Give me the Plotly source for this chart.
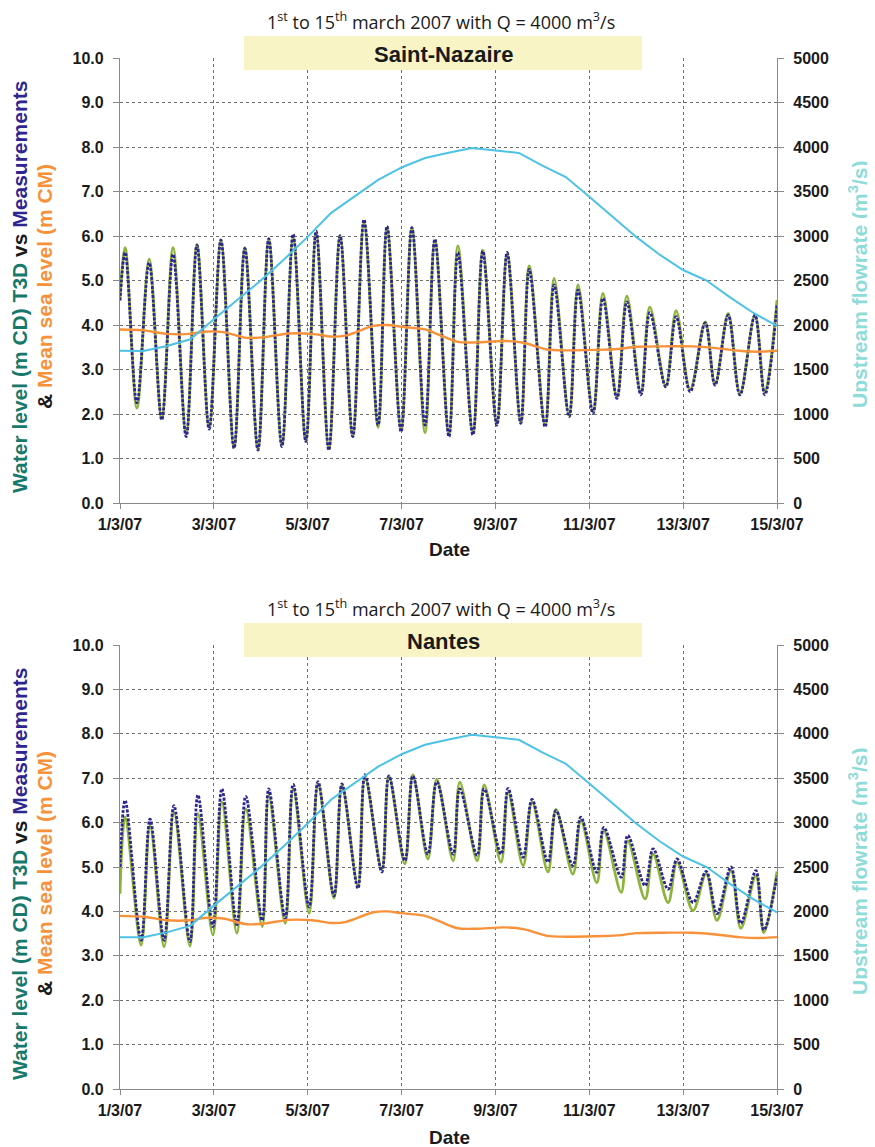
import plotly.graph_objects as go

# ---------------- data ----------------
# x values are days after 1 March 2007 00:00
date_ticks = [0, 2, 4, 6, 8, 10, 12, 14]
date_labels = ["1/3/07", "3/3/07", "5/3/07", "7/3/07", "9/3/07", "11/3/07", "13/3/07", "15/3/07"]

# Saint-Nazaire: high / low water extremes
sn_t = [0.00, 0.11, 0.36, 0.62, 0.89, 1.13, 1.41, 1.64, 1.90, 2.15, 2.43, 2.66, 2.94, 3.17,
        3.45, 3.69, 3.96, 4.18, 4.45, 4.69, 4.96, 5.20, 5.50, 5.69, 5.99, 6.22, 6.50, 6.71,
        7.01, 7.20, 7.52, 7.73, 8.03, 8.25, 8.54, 8.72, 9.06, 9.25, 9.57, 9.76, 10.08, 10.29,
        10.59, 10.80, 11.10, 11.29, 11.63, 11.85, 12.15, 12.47, 12.68, 12.96, 13.21, 13.53,
        13.74, 14.00]
sn_meas = [4.55, 5.63, 2.25, 5.40, 1.87, 5.59, 1.49, 5.79, 1.66, 5.91, 1.23, 5.72, 1.19, 5.94,
           1.27, 6.04, 1.38, 6.11, 1.19, 6.01, 1.49, 6.37, 1.75, 6.22, 1.60, 6.19, 1.75, 5.93,
           1.49, 5.63, 1.53, 5.66, 1.75, 5.63, 1.79, 5.25, 1.71, 4.90, 1.94, 4.79, 2.01, 4.60,
           2.35, 4.52, 2.43, 4.28, 2.61, 4.19, 2.50, 4.05, 2.65, 4.22, 2.43, 4.22, 2.43, 4.45]
sn_model = [4.60, 5.74, 2.13, 5.48, 1.90, 5.74, 1.55, 5.81, 1.70, 5.89, 1.25, 5.74, 1.22, 5.93,
            1.30, 5.96, 1.40, 6.07, 1.22, 6.00, 1.50, 6.30, 1.70, 6.19, 1.65, 6.19, 1.58, 5.89,
            1.55, 5.78, 1.58, 5.68, 1.78, 5.60, 1.80, 5.33, 1.75, 5.05, 1.97, 4.90, 2.05, 4.71,
            2.38, 4.65, 2.47, 4.40, 2.63, 4.32, 2.55, 4.07, 2.66, 4.26, 2.45, 4.22, 2.48, 4.56]

# Nantes: high / low water extremes
na_t = [0.00, 0.11, 0.45, 0.64, 0.94, 1.15, 1.49, 1.66, 1.98, 2.17, 2.49, 2.68, 3.03, 3.17,
        3.52, 3.69, 4.03, 4.22, 4.56, 4.73, 5.07, 5.22, 5.58, 5.73, 6.07, 6.24, 6.56, 6.75,
        7.10, 7.24, 7.61, 7.76, 8.12, 8.27, 8.59, 8.78, 9.12, 9.29, 9.65, 9.82, 10.16, 10.31,
        10.68, 10.82, 11.19, 11.36, 11.68, 11.87, 12.21, 12.49, 12.72, 13.02, 13.23, 13.55,
        13.72, 14.00]
na_meas = [5.00, 6.50, 3.35, 6.08, 3.35, 6.38, 3.32, 6.62, 3.66, 6.76, 3.70, 6.59, 3.80, 6.76,
           3.85, 6.86, 4.10, 6.92, 4.35, 6.87, 4.52, 7.08, 4.89, 7.05, 5.14, 7.05, 5.29, 6.92,
           5.29, 6.76, 5.26, 6.76, 5.29, 6.77, 5.22, 6.52, 5.11, 6.27, 5.03, 6.12, 4.88, 5.89,
           4.77, 5.71, 4.58, 5.41, 4.50, 5.18, 4.20, 4.90, 3.95, 5.00, 3.73, 4.92, 3.58, 4.80]
na_model = [4.40, 6.12, 3.24, 5.93, 3.20, 6.23, 3.22, 6.20, 3.47, 6.46, 3.51, 6.31, 3.66, 6.61,
            3.73, 6.76, 3.96, 6.87, 4.30, 6.83, 4.58, 7.02, 4.95, 7.05, 5.07, 7.08, 5.18, 6.98,
            5.14, 6.91, 5.14, 6.85, 5.11, 6.68, 5.03, 6.46, 4.89, 6.30, 4.84, 6.05, 4.65, 5.82,
            4.43, 5.59, 4.28, 5.29, 4.20, 5.11, 4.02, 4.85, 3.80, 4.92, 3.62, 4.80, 3.52, 4.90]

# Mean sea level (m CM)
msl_t = [0.0, 0.5, 1.0, 1.5, 1.8, 2.2, 2.7, 3.1, 3.6, 4.1, 4.5, 4.8, 5.4, 5.7, 6.0, 6.5, 6.8,
         7.2, 7.6, 8.2, 8.6, 9.1, 9.5, 10.1, 10.6, 11.0, 11.6, 12.2, 12.7, 13.2, 13.6, 14.0]
msl_v = [3.90, 3.88, 3.80, 3.80, 3.85, 3.84, 3.71, 3.73, 3.81, 3.80, 3.74, 3.76, 3.98, 4.00,
         3.96, 3.90, 3.78, 3.62, 3.61, 3.64, 3.60, 3.45, 3.43, 3.44, 3.46, 3.51, 3.52, 3.52,
         3.48, 3.42, 3.40, 3.42]

# Upstream flowrate (m3/s)
flow_t = [0.0, 0.5, 1.0, 1.5, 2.0, 2.5, 3.0, 3.5, 4.0, 4.5, 5.0, 5.5, 6.0, 6.5, 7.0, 7.5,
          8.0, 8.5, 9.0, 9.5, 10.0, 10.5, 11.0, 11.5, 12.0, 12.5, 13.0, 13.5, 14.0]
flow_v = [1710, 1708, 1764, 1840, 2065, 2285, 2500, 2740, 2990, 3260, 3440, 3630, 3770, 3876,
          3935, 3989, 3960, 3933, 3790, 3663, 3440, 3210, 2990, 2790, 2618, 2500, 2310, 2135, 1990]

# ---------------- styling ----------------
OFF = 8                      # page body margin of the html page
W, H = 875 - OFF, 1147 - OFF
GREEN = "#8cb43a"
BLUE = "#2e2690"
ORANGE = "#f7923a"
CYAN = "#4cc2e4"
TEAL = "#17786c"
LIGHTCYAN = "#8edcd9"
GRID = "#6e6e6e"
TXT = "#1a1a1a"
FONT = "Liberation Sans"


def px(x):
    return (x - OFF) / W


def py(y):
    return 1 - (y - OFF) / H


fig = go.Figure()

panels = [
    dict(t=sn_t, meas=sn_meas, model=sn_model, xa="x", ya="y", ya2="y2"),
    dict(t=na_t, meas=na_meas, model=na_model, xa="x2", ya="y3", ya2="y4"),
]
for p in panels:
    fig.add_trace(go.Scatter(x=p["t"], y=p["model"], mode="lines", xaxis=p["xa"], yaxis=p["ya"],
                             line=dict(color=GREEN, width=2.8, shape="spline", smoothing=1.0),
                             hoverinfo="skip"))
    fig.add_trace(go.Scatter(x=p["t"], y=p["meas"], mode="lines", xaxis=p["xa"], yaxis=p["ya"],
                             line=dict(color=BLUE, width=2.8, shape="spline", smoothing=1.0,
                                       dash="3px,1.5px"),
                             hoverinfo="skip"))
    fig.add_trace(go.Scatter(x=msl_t, y=msl_v, mode="lines", xaxis=p["xa"], yaxis=p["ya"],
                             line=dict(color=ORANGE, width=2.4, shape="spline", smoothing=0.8),
                             hoverinfo="skip"))
    fig.add_trace(go.Scatter(x=flow_t, y=flow_v, mode="lines", xaxis=p["xa"], yaxis=p["ya2"],
                             line=dict(color=CYAN, width=2.0), hoverinfo="skip"))

tickfont = dict(family=FONT, size=16, color=TXT, weight="bold")
xdom = [px(120), px(777)]
dom_top = [py(503), py(58)]
dom_bot = [py(1089), py(645)]

xcommon = dict(range=[0, 14], tickmode="array", tickvals=date_ticks, ticktext=date_labels,
               showgrid=True, gridcolor=GRID, griddash="dot", gridwidth=1, automargin=False,
               showline=True, linecolor="#8a8a8a", linewidth=1.2, ticks="outside", ticklen=5,
               tickcolor="#8a8a8a", tickfont=tickfont, zeroline=False, ticklabelstandoff=2)
ycommon = dict(range=[0, 10], dtick=1, tickformat=".1f", showgrid=True, gridcolor=GRID,
               griddash="dot", gridwidth=1, showline=True, linecolor="#8a8a8a", linewidth=1.2,
               ticks="outside", ticklen=6, tickcolor="#8a8a8a", tickfont=tickfont, zeroline=False,
               ticklabelstandoff=6, automargin=False)
y2common = dict(range=[0, 5000], dtick=500, showgrid=False, showline=True, linecolor="#8a8a8a",
                linewidth=1.2, ticks="outside", ticklen=6, tickcolor="#8a8a8a", tickfont=tickfont,
                zeroline=False, side="right", ticklabelstandoff=6, automargin=False)

fig.update_layout(
    width=W, height=H, autosize=False,
    margin=dict(l=0, r=0, t=0, b=0, autoexpand=False),
    paper_bgcolor="white", plot_bgcolor="white",
    showlegend=False,
    xaxis=dict(domain=xdom, anchor="y", **xcommon),
    yaxis=dict(domain=dom_top, anchor="x", **ycommon),
    yaxis2=dict(overlaying="y", anchor="x", **y2common),
    xaxis2=dict(domain=xdom, anchor="y3", **xcommon),
    yaxis3=dict(domain=dom_bot, anchor="x2", **ycommon),
    yaxis4=dict(overlaying="y3", anchor="x2", **y2common),
)

subtitle = "1<sup>st</sup> to 15<sup>th</sup> march 2007 with Q = 4000 m<sup>3</sup>/s"
left1 = (f"<span style='color:{TEAL}'>Water level (m CD) T3D</span> "
         f"<span style='color:{TXT}'>vs</span> <span style='color:{BLUE}'>Measurements</span>")
left2 = f"<span style='color:{TXT}'>&amp;</span> <span style='color:{ORANGE}'>Mean sea level (m CM)</span>"
right = "Upstream flowrate (m<sup>3</sup>/s)"

shapes = []
annotations = []
for off, name in [(0, "Saint-Nazaire"), (587, "Nantes")]:
    shapes.append(dict(type="rect", xref="paper", yref="paper", layer="above",
                       x0=px(244), x1=px(642), y0=py(70 + off), y1=py(36 + off),
                       fillcolor="#f8f4c6", line=dict(width=0)))
    annotations += [
        dict(text=subtitle, x=px(441), y=py(21 + off), xref="paper", yref="paper",
             showarrow=False, xanchor="center", yanchor="middle",
             font=dict(family="Open Sans", size=18, color=TXT)),
        dict(text=name, x=px(443), y=py(54 + off), xref="paper", yref="paper",
             showarrow=False, xanchor="center", yanchor="middle",
             font=dict(family=FONT, size=22, color=TXT, weight="bold")),
        dict(text="Date", x=px(449), y=py(550 + off), xref="paper", yref="paper",
             showarrow=False, xanchor="center", yanchor="middle",
             font=dict(family=FONT, size=19, color=TXT, weight="bold")),
        dict(text=left1, x=px(19), y=py(287 + off), xref="paper", yref="paper", textangle=-90,
             showarrow=False, xanchor="center", yanchor="middle",
             font=dict(family=FONT, size=21, color=TXT, weight="bold")),
        dict(text=left2, x=px(44), y=py(287 + off), xref="paper", yref="paper", textangle=-90,
             showarrow=False, xanchor="center", yanchor="middle",
             font=dict(family=FONT, size=21, color=TXT, weight="bold")),
        dict(text=right, x=px(858), y=py(285 + off), xref="paper", yref="paper", textangle=-90,
             showarrow=False, xanchor="center", yanchor="middle",
             font=dict(family=FONT, size=21, color=LIGHTCYAN, weight="bold")),
    ]

fig.update_layout(shapes=shapes, annotations=annotations)
fig.write_html("out.html")
